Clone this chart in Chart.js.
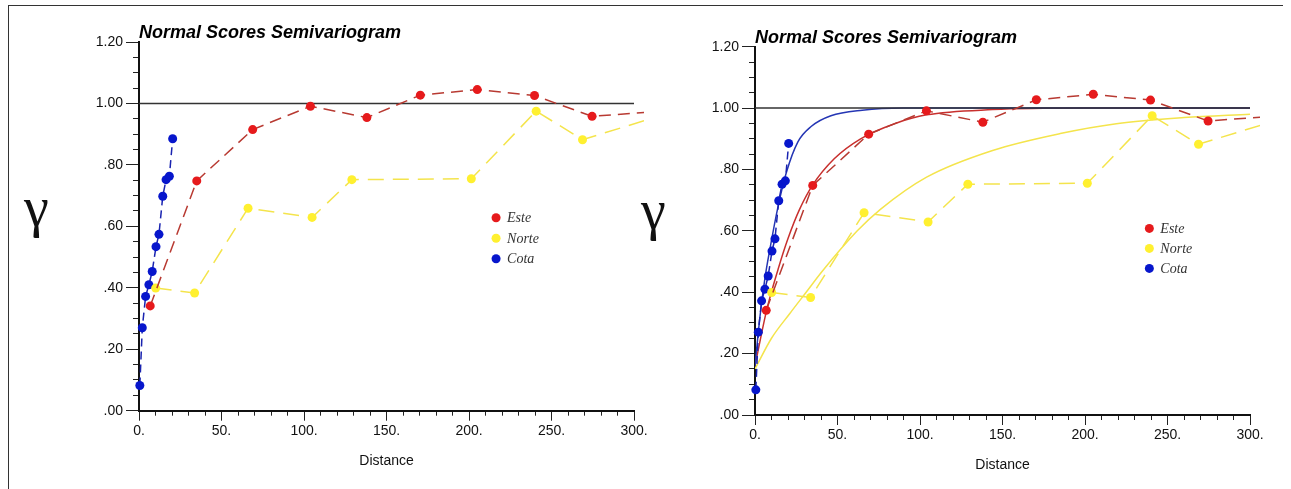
<!DOCTYPE html>
<html>
<head>
<meta charset="utf-8">
<script src="https://cdn.jsdelivr.net/npm/chart.js@4.4.1/dist/chart.umd.min.js"></script>
<style>
  body { margin: 0; background: #fff; width: 1291px; height: 489px; overflow: hidden; position: relative; }
  #frame { position: absolute; left: 8px; top: 5px; width: 1274px; height: 490px; border-top: 1px solid #333; border-left: 1px solid #333; }
  canvas { position: absolute; top: 0; }
  #left { left: 0; }
  #right { left: 630px; }
</style>
</head>
<body>
<div id="frame"></div>
<canvas id="left" width="660" height="489"></canvas>
<canvas id="right" width="661" height="489"></canvas>
<script>
const esteLag = [6.8, 35, 68.9, 103.9, 138.1, 170.5, 205, 239.7, 274.6, 310];
const esteGamma = [0.341, 0.748, 0.915, 0.991, 0.954, 1.027, 1.045, 1.026, 0.958, 0.972];
const norteLag = [10.1, 33.7, 66.1, 104.9, 129, 201.4, 240.7, 268.8, 310];
const norteGamma = [0.399, 0.383, 0.659, 0.629, 0.752, 0.755, 0.975, 0.882, 0.95];
const cotaLag = [0.5, 2.0, 4.0, 6.0, 8.0, 10.3, 12.1, 14.4, 16.4, 18.4, 20.4];
const cotaGamma = [0.082, 0.270, 0.372, 0.410, 0.453, 0.534, 0.574, 0.698, 0.752, 0.763, 0.885];

// fitted models (right plot)
const esteModelLag = [0, 7, 14, 20, 27, 35, 48, 64, 85, 104, 144, 200, 300];
const esteModelGamma = [0.16, 0.34, 0.475, 0.575, 0.67, 0.75, 0.835, 0.90, 0.95, 0.978, 0.995, 1.0, 1.0];
const norteModelLag = [0, 10, 21, 31, 41, 62, 76, 104, 144, 185, 219, 260, 300];
const norteModelGamma = [0.15, 0.25, 0.33, 0.40, 0.47, 0.60, 0.67, 0.775, 0.862, 0.917, 0.949, 0.969, 0.98];
const cotaModelLag = [0, 3, 6, 9, 14, 19, 26, 34, 46, 65, 90, 300];
const cotaModelGamma = [0.16, 0.32, 0.445, 0.54, 0.68, 0.79, 0.89, 0.94, 0.975, 0.993, 1.0, 1.0];

const sillLag = [0, 300];
const sillGamma = [1, 1];

const seriesNames = ['Este', 'Norte', 'Cota'];
const titleText = 'Normal Scores Semivariogram';
const xTitle = 'Distance';
const yTitle = 'γ';

const sans = "'Liberation Sans', Arial, sans-serif";
const serif = "'Liberation Serif', 'Times New Roman', serif";

function pts(xs, ys) {
  return xs.map((x, i) => ({ x: x, y: ys[i] }));
}

function fmtGamma(v) {
  const r = Math.round(v * 100) / 100;
  const s = r.toFixed(2);
  return r < 1 ? s.slice(1) : s;
}

function expSet(label, xs, ys, line, dot, dash) {
  return {
    label: label,
    data: pts(xs, ys),
    borderColor: line,
    borderWidth: 1.5,
    borderDash: dash,
    pointBackgroundColor: dot,
    pointBorderWidth: 0,
    pointRadius: c => (c.raw && c.raw.x > 300 ? 0 : 4.5),
    clip: { left: 6, top: 6, right: 10, bottom: 6 },
    tension: 0
  };
}

function modelSet(label, xs, ys, color) {
  return {
    label: label,
    data: pts(xs, ys),
    borderColor: color,
    borderWidth: 1.5,
    pointRadius: 0,
    cubicInterpolationMode: 'monotone'
  };
}

const gammaPlugin = {
  id: 'gammaLabel',
  afterDraw(chart, args, opts) {
    const ctx = chart.ctx;
    ctx.save();
    ctx.font = '56px ' + serif;
    ctx.fillStyle = '#111';
    ctx.textBaseline = 'alphabetic';
    ctx.fillText(yTitle, opts.x, opts.y);
    ctx.restore();
  }
};

const dotLegend = {
  id: 'dotLegend',
  afterDatasetsDraw(chart, args, opts) {
    const ctx = chart.ctx;
    const x0 = chart.scales.x.getPixelForValue(opts.x);
    const y0 = chart.scales.y.getPixelForValue(opts.y);
    ctx.save();
    ctx.font = 'italic 14px ' + serif;
    ctx.textBaseline = 'middle';
    seriesNames.forEach((name, i) => {
      const ds = chart.data.datasets[i];
      const y = y0 + i * opts.gap;
      ctx.fillStyle = ds.pointBackgroundColor;
      ctx.beginPath();
      ctx.arc(x0, y, 4.5, 0, Math.PI * 2);
      ctx.fill();
      ctx.fillStyle = '#333';
      ctx.fillText(name, x0 + 11, y + 1);
    });
    ctx.restore();
  }
};

function makeChart(id, datasets, p) {
  const tickFont = { family: sans, size: 14 };
  new Chart(document.getElementById(id), {
    type: 'line',
    data: { datasets: datasets },
    plugins: [gammaPlugin, dotLegend],
    options: {
      responsive: false,
      animation: false,
      devicePixelRatio: 1,
      events: [],
      layout: { padding: { left: 0, top: p.padTop, right: p.padRight, bottom: 0 } },
      plugins: {
        legend: { display: false },
        tooltip: { enabled: false },
        title: {
          display: true,
          text: titleText,
          align: 'start',
          fullSize: false,
          color: '#000',
          font: { family: sans, size: 18, weight: 'bold', style: 'italic', lineHeight: 1 },
          padding: { top: 0, bottom: 0 }
        },
        gammaLabel: { x: p.gx, y: p.gy },
        dotLegend: { x: p.lx, y: p.ly, gap: p.lgap }
      },
      scales: {
        x: {
          type: 'linear', position: 'bottom', weight: 1, min: 0, max: 300,
          ticks: { stepSize: 50, padding: 2, maxRotation: 0, color: '#111', font: tickFont, callback: v => v + '.' },
          grid: { drawOnChartArea: false, tickLength: 10, color: '#222' },
          border: { display: false },
          title: { display: true, text: xTitle, color: '#111', font: { family: sans, size: 14 }, padding: { top: 0, bottom: p.xTitlePad } },
          afterFit: s => { s.height = p.xH; }
        },
        xm: {
          type: 'linear', position: 'bottom', weight: 0, min: 0, max: 300,
          ticks: { stepSize: 10, display: false },
          grid: { drawOnChartArea: false, tickLength: 5, color: '#222' },
          border: { display: true, color: '#111', width: 2 },
          afterFit: s => { s.height = 0; }
        },
        y: {
          type: 'linear', position: 'left', weight: 1, min: 0, max: 1.2,
          ticks: { stepSize: 0.2, padding: 3, color: '#111', font: tickFont, callback: v => fmtGamma(v) },
          grid: { drawOnChartArea: false, tickLength: 13, color: '#222' },
          border: { display: false },
          afterFit: s => { s.width = p.yW; }
        },
        ym: {
          type: 'linear', position: 'left', weight: 0, min: 0, max: 1.2,
          ticks: { stepSize: 0.05, display: false },
          grid: { drawOnChartArea: false, tickLength: 6, color: '#222' },
          border: { display: true, color: '#111', width: 2 },
          afterFit: s => { s.width = 0; }
        }
      }
    }
  });
}

function experimental() {
  return [
    expSet(seriesNames[0], esteLag, esteGamma, '#b83a32', '#e61a1c', [12, 7]),
    expSet(seriesNames[1], norteLag, norteGamma, '#f4e44c', '#fff030', [16, 9]),
    expSet(seriesNames[2], cotaLag, cotaGamma, '#1a24b0', '#0716cc', [8, 5])
  ];
}

const sillSet = () => ({ label: 'sill', data: pts(sillLag, sillGamma), borderColor: '#333', borderWidth: 1.5, pointRadius: 0 });

makeChart('left', experimental().concat([sillSet()]), {
  padTop: 24, padRight: 26, yW: 139, xH: 78.3, xTitlePad: 19.6,
  gx: 24, gy: 226, lx: 216.4, ly: 0.628, lgap: 20.5
});

makeChart('right', experimental().concat([
  sillSet(),
  modelSet('Cota model', cotaModelLag, cotaModelGamma, '#2536b4'),
  modelSet('Este model', esteModelLag, esteModelGamma, '#c8302e'),
  modelSet('Norte model', norteModelLag, norteModelGamma, '#f4e44c')
]), {
  padTop: 28.7, padRight: 41, yW: 125, xH: 74, xTitlePad: 15.6,
  gx: 11, gy: 229, lx: 239, ly: 0.608, lgap: 20
});
</script>
</body>
</html>
